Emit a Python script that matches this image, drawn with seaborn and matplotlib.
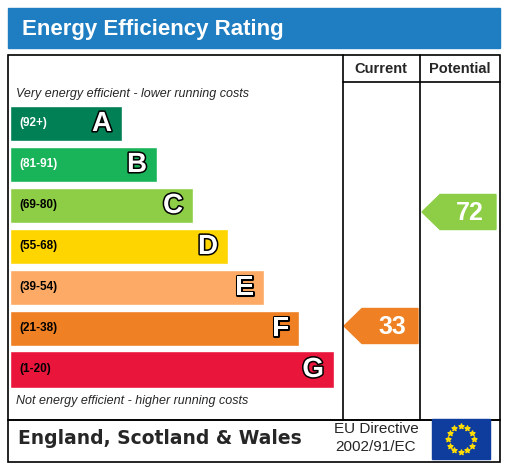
import matplotlib
matplotlib.use("Agg")
import matplotlib.pyplot as plt
import matplotlib.patheffects as pe
import seaborn as sns
from matplotlib.patches import Rectangle, Polygon
import numpy as np

sns.set_style("white")
plt.rcParams['font.family'] = ['Liberation Sans', 'DejaVu Sans']

bands = ["A", "B", "C", "D", "E", "F", "G"]
ranges = ["(92+)", "(81-91)", "(69-80)", "(55-68)", "(39-54)", "(21-38)", "(1-20)"]
bar_ends = [122, 157, 193, 228, 264, 299, 334]
colors = ["#008054", "#19b459", "#8dce46", "#ffd500", "#fcaa65", "#ef8023", "#e9153b"]
current_value = 33
current_band = "F"
potential_value = 72
potential_band = "C"

fig = plt.figure(figsize=(5.09, 4.67), dpi=100)
ax = fig.add_axes([0, 0, 1, 1])
ax.set_xlim(0, 509)
ax.set_ylim(467, 0)
ax.axis("off")

ax.add_patch(Rectangle((8, 8), 492, 40, color="#1f7ec1"))
ax.text(22, 29, "Energy Efficiency Rating", color="white", fontsize=16, fontweight="bold", va="center")

lw = 1.2
ax.add_patch(Rectangle((8, 55), 492, 365, fill=False, ec="black", lw=lw))
ax.add_patch(Rectangle((8, 420), 492, 42, fill=False, ec="black", lw=lw))
ax.plot([343, 343], [55, 420], color="black", lw=lw)
ax.plot([420, 420], [55, 420], color="black", lw=lw)
ax.plot([343, 500], [82, 82], color="black", lw=lw)
ax.text(381, 69, "Current", fontsize=10.5, fontweight="bold", ha="center", va="center")
ax.text(460, 69, "Potential", fontsize=10.5, fontweight="bold", ha="center", va="center")

ax.text(16, 94, "Very energy efficient - lower running costs", fontsize=9, style="italic", va="center")
ax.text(16, 401, "Not energy efficient - higher running costs", fontsize=9, style="italic", va="center")

ys = np.array([123 + 41 * i for i in range(7)])
heights = [35] * 6 + [37]
ax.barh(ys, [e - 10 for e in bar_ends], left=10, height=heights, color=colors)
for y, e, b, r in zip(ys, bar_ends, bands, ranges):
    tc = "white" if b in "AB" else "black"
    ax.text(19, y, r, fontsize=8.5, fontweight="bold", color=tc, va="center")
    t = ax.text(e - 10, y + 1, b, fontsize=20, fontweight="bold", color="white", ha="right", va="center")
    t.set_path_effects([pe.Stroke(linewidth=2.2, foreground="black"), pe.Normal()])

def arrow(x0, x1, y, val, col):
    h = 17.5
    ax.add_patch(Polygon([(x0, y), (x0 + 18, y - h), (x1, y - h), (x1, y + h), (x0 + 18, y + h)], color=col))
    ax.text(x1 - 12, y + 1, str(val), fontsize=18, fontweight="bold", color="white", ha="right", va="center")

arrow(344, 418, ys[bands.index(current_band)] - 2, current_value, colors[bands.index(current_band)])
arrow(422, 496, ys[bands.index(potential_band)] + 7, potential_value, colors[bands.index(potential_band)])

ax.text(18, 438, "England, Scotland & Wales", fontsize=13.5, fontweight="bold", va="center", family=["DejaVu Sans"])
ax.text(376, 429, "EU Directive", fontsize=11, ha="center", va="center")
ax.text(376, 447, "2002/91/EC", fontsize=11, ha="center", va="center")

ax.add_patch(Rectangle((432, 419), 58, 40, color="#0e3d9e"))
ang = np.linspace(0, 2 * np.pi, 13)[:-1]
ax.scatter(461 + 13 * np.sin(ang), 439 - 13 * np.cos(ang), marker="*", s=14, color="#ffdd00", zorder=5)

fig.savefig("out.png", dpi=100)
